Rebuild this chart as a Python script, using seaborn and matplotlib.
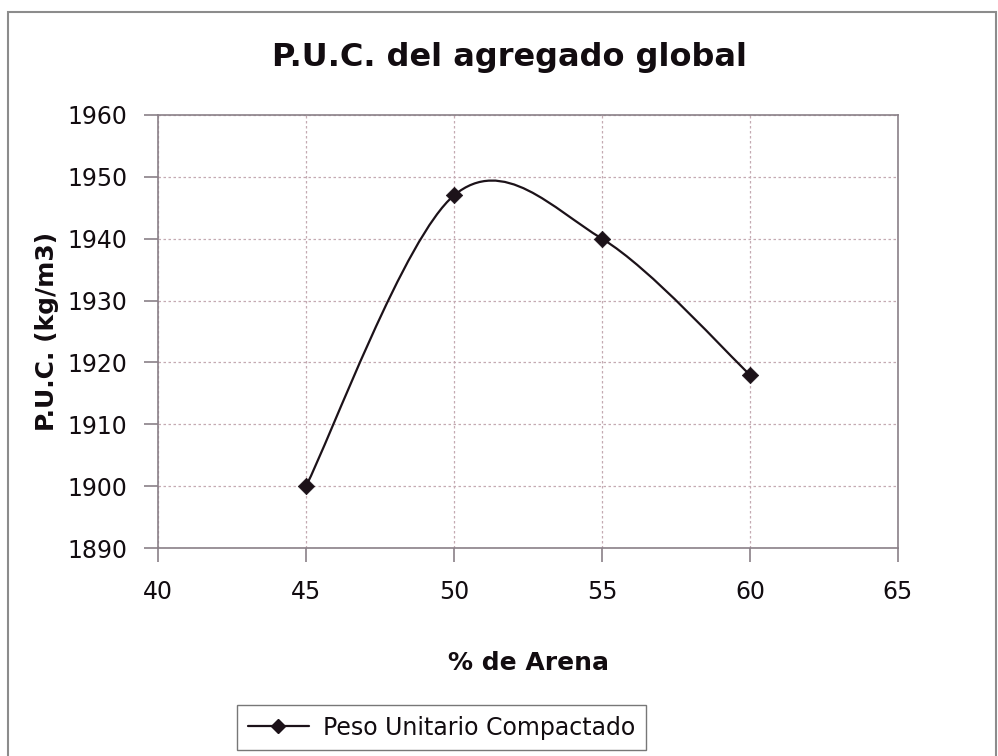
import numpy as np
import pandas as pd
import seaborn as sns
import matplotlib
matplotlib.use("Agg")
import matplotlib.pyplot as plt
from matplotlib.path import Path
from matplotlib.patches import PathPatch, Rectangle
from matplotlib.lines import Line2D

# Compacted unit weight of the combined aggregate vs. sand content
arena_pct = [45, 50, 55, 60]
puc_kgm3 = [1900, 1947, 1940, 1918]
serie = "Peso Unitario Compactado"

titulo = "P.U.C. del agregado global"
x_label = "% de Arena"
y_label = "P.U.C. (kg/m3)"
x_ticks = [40, 45, 50, 55, 60, 65]
y_ticks = [1890, 1900, 1910, 1920, 1930, 1940, 1950, 1960]

df = pd.DataFrame({"arena": arena_pct, "puc": puc_kgm3})

sns.set_theme(style="white")
plt.rcParams["font.family"] = ["DejaVu Sans"]

LINE = "#1c1219"
GRID = "#c4aab2"
SPINE = "#8a8088"
TEXT = "#120c10"

fig = plt.figure(figsize=(9.98, 7.56), dpi=100)
ax = fig.add_axes([158 / 998, 1 - 548 / 756, 740 / 998, 433 / 756])


def smooth_path(xs, ys):
    """Cubic Bezier through the points, Catmull-Rom style tangents."""
    pts = np.column_stack([xs, ys]).astype(float)
    n = len(pts)
    verts = [pts[0]]
    codes = [Path.MOVETO]
    for i in range(n - 1):
        p_prev = pts[i - 1] if i > 0 else pts[i]
        p0, p1 = pts[i], pts[i + 1]
        p_next = pts[i + 2] if i + 2 < n else pts[i + 1]
        c1 = p0 + (p1 - p_prev) / 6.0
        c2 = p1 - (p_next - p0) / 6.0
        verts += [c1, c2, p1]
        codes += [Path.CURVE4] * 3
    return Path(verts, codes)


ax.add_patch(PathPatch(smooth_path(df["arena"], df["puc"]), facecolor="none",
                       edgecolor=LINE, lw=1.6, zorder=3))
sns.scatterplot(data=df, x="arena", y="puc", marker="D", s=70, color=LINE,
                edgecolor=LINE, linewidth=0.5, ax=ax, zorder=4, legend=False)

ax.set_xlim(x_ticks[0], x_ticks[-1])
ax.set_ylim(y_ticks[0], y_ticks[-1])
ax.set_xticks(x_ticks)
ax.set_yticks(y_ticks)
ax.grid(True, linestyle=(0, (2, 2)), color=GRID, lw=0.9)
ax.set_axisbelow(True)
for s in ax.spines.values():
    s.set_color(SPINE)
    s.set_linewidth(1.2)
ax.tick_params(axis="both", direction="out", length=10, width=1.2, color=SPINE,
               labelsize=17, labelcolor=TEXT, left=True, bottom=True)
ax.tick_params(axis="x", pad=13)
ax.tick_params(axis="y", pad=12)

ax.set_xlabel(x_label, fontsize=18, fontweight="bold", color=TEXT, labelpad=34)
ax.set_ylabel(y_label, fontsize=18, fontweight="bold", color=TEXT, labelpad=6)
fig.text(509 / 998, 1 - 66 / 756, titulo, ha="center", va="baseline",
         fontsize=23, fontweight="bold", color=TEXT)

handle = Line2D([], [], color=LINE, lw=1.6, marker="D", markersize=7,
                markerfacecolor=LINE, markeredgecolor=LINE)
leg = fig.legend([handle], [serie], loc="upper left",
                 bbox_to_anchor=(237 / 998, 1 - 705 / 756),
                 frameon=True, fancybox=False, fontsize=17, handlelength=2.6,
                 borderpad=0.45, borderaxespad=0.0, handletextpad=0.6)
leg.get_frame().set_edgecolor("#555555")
leg.get_frame().set_linewidth(1.0)
for t in leg.get_texts():
    t.set_color(TEXT)

# outer chart frame
fig.patches.append(Rectangle((8 / 998, -0.01), 988 / 998, 1 - 12 / 756 + 0.01,
                             transform=fig.transFigure, fill=False,
                             edgecolor="#8c8c8c", lw=1.5))

fig.savefig("out.png", dpi=100)
